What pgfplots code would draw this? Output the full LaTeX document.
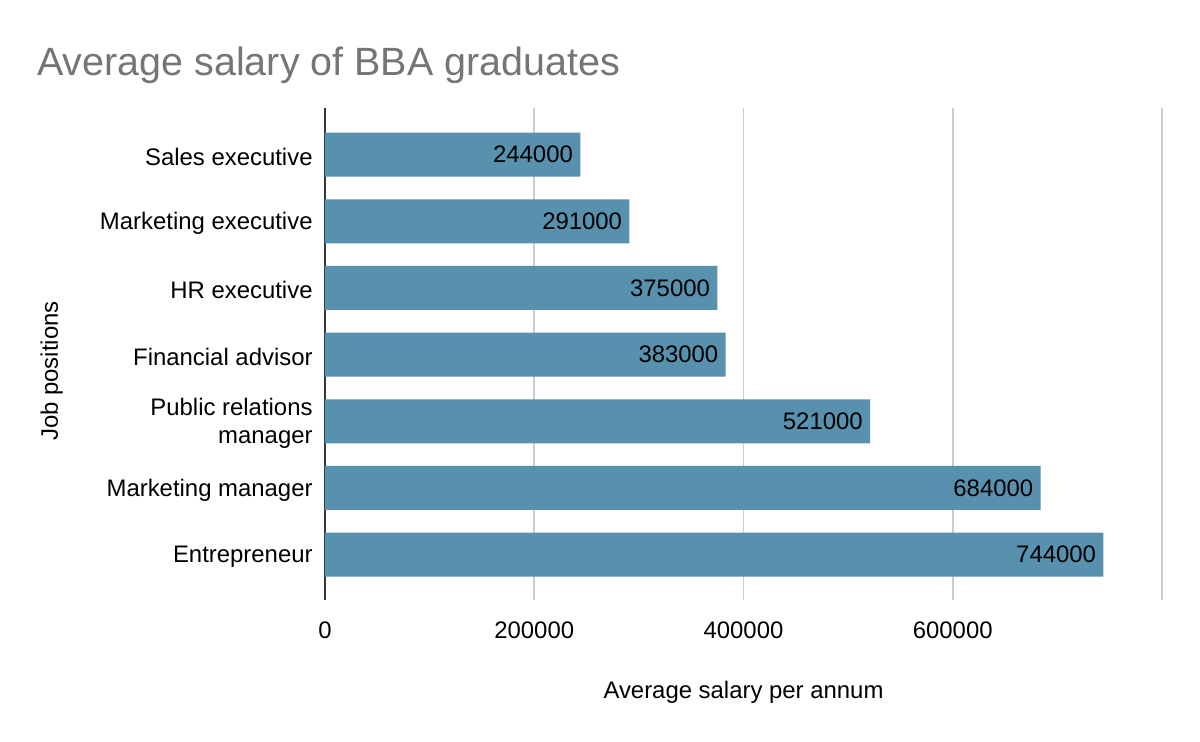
\documentclass[border=0pt]{standalone}
\usepackage{pgfplots}
\pgfplotsset{compat=1.18}
\usepackage{fontspec}
\setmainfont{Liberation Sans}
\definecolor{barblue}{HTML}{5891AE}
\definecolor{titlegray}{HTML}{757575}
\definecolor{gridgray}{HTML}{CCCCCC}
\begin{document}
\begin{tikzpicture}
% page is 600bp x 371bp (1px = 0.5bp); origin at the lower left corner of the plot area
\useasboundingbox (-162.5bp,-71bp) rectangle (437.5bp,300bp);
\begin{axis}[
    at={(0bp,0bp)}, anchor=south west,
    scale only axis,
    width=418.5bp, height=246bp,
    xbar, bar width=0.66,
    xmin=0, xmax=800000,
    ymin=-0.68, ymax=6.7,
    xtick={0,200000,400000,600000,800000},
    xticklabels={0,200000,400000,600000,{}},
    ytick={0,...,6},
    yticklabels={Entrepreneur, Marketing manager, {Public relations\\manager}, Financial advisor, HR executive, Marketing executive, Sales executive},
    axis y line*=left, axis x line*=bottom,
    x axis line style={draw=none},
    y axis line style={draw=black!80, line width=1bp, -},
    major tick length=0pt,
    xmajorgrids, grid style={gridgray, line width=0.8bp},
    scaled x ticks=false,
    /pgf/number format/assume math mode=true,
    /pgf/number format/1000 sep={},
    tick label style={font=\fontsize{12}{14}\selectfont},
    yticklabel style={anchor=east, align=right, inner sep=0pt, xshift=-6bp, yshift=-1bp},
    xticklabel style={anchor=base, inner sep=0pt, yshift=-19bp},
    nodes near coords,
    point meta=explicit symbolic,
    every node near coord/.append style={anchor=east, xshift=-3.5bp, inner sep=0pt, font=\fontsize{12}{14}\selectfont, text=black},
]
\addplot[fill=barblue, draw=none] coordinates {
    (744000,0) [744000]
    (684000,1) [684000]
    (521000,2) [521000]
    (383000,3) [383000]
    (375000,4) [375000]
    (291000,5) [291000]
    (244000,6) [244000]
};
\end{axis}
\node[anchor=base west, inner sep=0pt, text=titlegray, font=\fontsize{19.8}{23}\selectfont] at (-144bp,262bp) {Average salary of BBA graduates};
\node[anchor=base, inner sep=0pt, font=\fontsize{12}{14}\selectfont] at (209.25bp,-49bp) {Average salary per annum};
\node[anchor=base, rotate=90, inner sep=0pt, font=\fontsize{12}{14}\selectfont] at (-133.5bp,114.5bp) {Job positions};
\end{tikzpicture}
\end{document}
